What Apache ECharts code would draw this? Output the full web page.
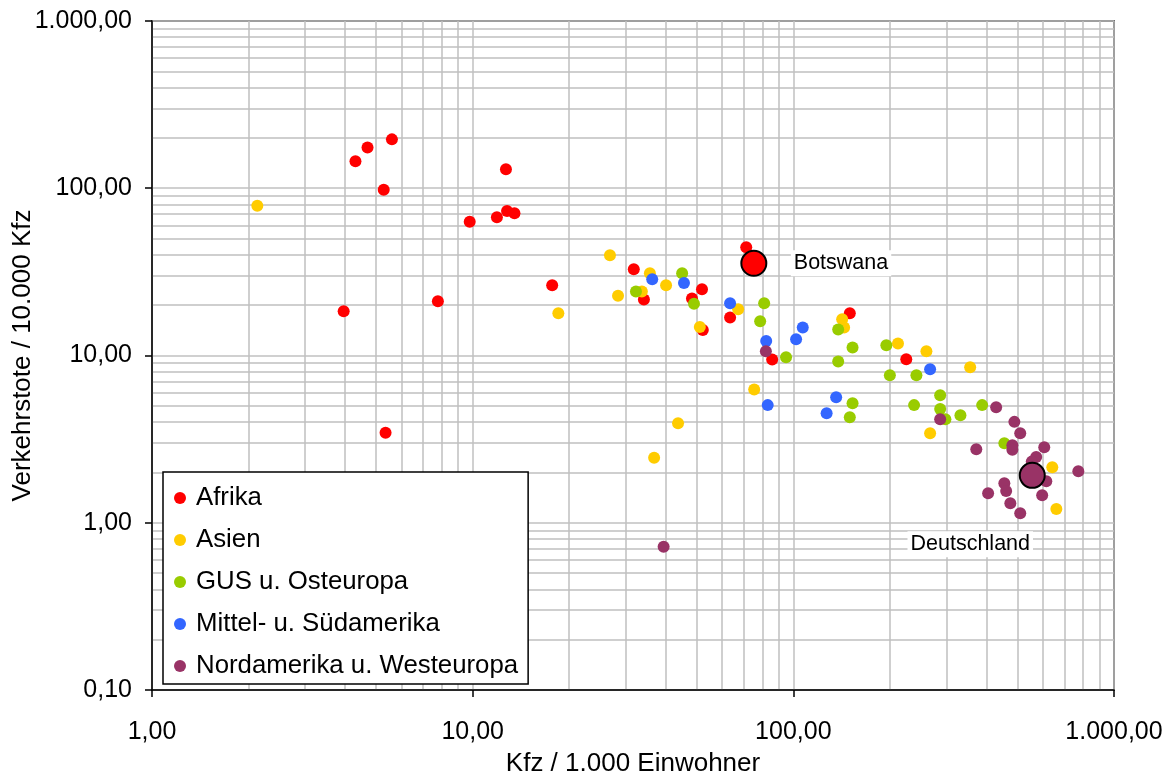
<!DOCTYPE html>
<html>
<head>
<meta charset="utf-8">
<script src="https://cdn.jsdelivr.net/npm/echarts@6/dist/echarts.min.js"></script>
<style>
html,body{margin:0;padding:0;background:#fff;}
#chart{width:1175px;height:778px;}
</style>
</head>
<body>
<div id="chart"></div>
<script>
// ---- data (x: Kfz / 1.000 Einwohner, y: Verkehrstote / 10.000 Kfz) ----
const seriesNames = ['Afrika', 'Asien', 'GUS u. Osteuropa', 'Mittel- u. Südamerika', 'Nordamerika u. Westeuropa'];

const afrika = [
  [5.60,196],[4.70,175],[4.31,145],[5.28,98.1],[12.7,130],[9.79,63.1],[11.9,67.1],
  [12.8,73.2],[13.5,70.9],[17.7,26.3],[3.96,18.4],[7.79,21.1],[5.35,3.45],[31.8,32.8],
  [34.2,21.6],[51.9,24.9],[48.3,21.9],[52.2,14.2],[63.5,16.9],[71.3,44.4],[85.9,9.45],
  [150,17.9],[225,9.50]
];
const asien = [
  [2.13,78.7],[18.5,17.9],[26.8,39.8],[35.7,31.0],[28.4,22.8],[33.7,24.1],[40.1,26.3],
  [51.1,14.8],[67.3,18.9],[75.5,6.26],[43.7,3.94],[36.8,2.45],[142,16.5],[144,14.7],
  [212,11.8],[260,10.6],[356,8.51],[267,3.43],[642,2.15],[661,1.21]
];
const gus = [
  [32.3,24.1],[45.0,31.0],[49.0,20.4],[81.1,20.5],[78.8,16.0],[94.9,9.77],[138,14.3],
  [153,11.15],[138,9.22],[153,5.19],[150,4.27],[195,11.5],[200,7.62],[242,7.62],
  [287,5.79],[238,5.05],[287,4.78],[298,4.16],[332,4.40],[388,5.05],[455,2.99]
];
const suedamerika = [
  [36.3,28.6],[45.6,27.1],[63.5,20.5],[82.3,12.2],[107,14.7],[102,12.5],[83.2,5.05],
  [136,5.63],[127,4.51],[267,8.28]
];
const westen = [
  [39.4,0.718],[82.1,10.6],[287,4.16],[429,4.91],[489,4.01],[510,3.43],[482,2.91],
  [482,2.73],[372,2.75],[606,2.83],[572,2.47],[554,2.32],[615,1.77],[774,2.03],
  [455,1.72],[461,1.55],[405,1.50],[597,1.46],[475,1.31],[510,1.14]
];
const highlightNames = ['Botswana', 'Deutschland'];
const highlightX = [75.3, 556];
const highlightY = [35.6, 1.92];

const xTickLabels = ['1,00', '10,00', '100,00', '1.000,00'];   // 10^0 .. 10^3
const yTickLabels = ['0,10', '1,00', '10,00', '100,00', '1.000,00']; // 10^-1 .. 10^3

// ---- styling ----
const colors = ['#FF0000', '#FFCC00', '#99CC00', '#3366FF', '#993366'];
const highlightColorIdx = [0, 4];
const FONT = "'Liberation Sans', Arial, sans-serif";
const gridColor = '#c0c0c0';

const chart = echarts.init(document.getElementById('chart'), null, {renderer: 'canvas'});

function axisCommon(labels, minExp) {
  return {
    type: 'log',
    logBase: 10,
    axisLine: {show: true, lineStyle: {color: '#000', width: 1.5}},
    axisTick: {show: true, inside: false, length: 7, lineStyle: {color: '#000', width: 1.5}},
    splitLine: {show: true, lineStyle: {color: gridColor, width: 1.5}},
    minorTick: {show: false, splitNumber: 9},
    minorSplitLine: {show: true, lineStyle: {color: gridColor, width: 1.5}},
    axisLabel: {
      color: '#000', fontFamily: FONT, fontSize: 25,
      formatter: function (v) {
        const e = Math.round(Math.log10(v));
        return labels[e - minExp] !== undefined ? labels[e - minExp] : '';
      }
    },
    nameLocation: 'middle',
    nameMoveOverlap: false,
    nameTextStyle: {color: '#000', fontFamily: FONT, fontSize: 26}
  };
}

const xAxis = Object.assign(axisCommon(xTickLabels, 0), {
  min: 1, max: 1000,
  name: 'Kfz / 1.000 Einwohner',
  nameGap: 61
});
xAxis.axisLabel.margin = 30;

const yAxis = Object.assign(axisCommon(yTickLabels, -1), {
  min: 0.1, max: 1000,
  name: 'Verkehrstote / 10.000 Kfz',
  nameGap: 116
});
yAxis.axisLabel.margin = 20;

const seriesData = [afrika, asien, gus, suedamerika, westen];
const series = seriesData.map(function (d, i) {
  return {
    name: seriesNames[i],
    type: 'scatter',
    symbol: 'circle',
    symbolSize: 12,
    itemStyle: {color: colors[i], opacity: 1},
    data: d,
    z: 2 + i
  };
});

const labelStyles = [
  {position: 'right', distance: 23.5},
  {position: 'inside', offset: [-62, 69]}
];
series.push({
  name: 'Markiert',
  type: 'scatter',
  symbol: 'circle',
  symbolSize: 25,
  z: 10,
  itemStyle: {opacity: 1},
  data: highlightNames.map(function (n, i) {
    return {
      name: n,
      value: [highlightX[i], highlightY[i]],
      itemStyle: {color: colors[highlightColorIdx[i]], borderColor: '#000', borderWidth: 2, opacity: 1},
      label: Object.assign({
        show: true, formatter: '{b}', color: '#000', fontFamily: FONT, fontSize: 21.5,
        backgroundColor: '#fff', padding: [2, 3], opacity: 1
      }, labelStyles[i])
    };
  })
});

chart.setOption({
  animation: false,
  backgroundColor: '#fff',
  grid: {
    left: 152, right: 61, top: 21, bottom: 88,
    outerBoundsMode: 'none',
    containLabel: false,
    show: true, borderColor: '#000', borderWidth: 1.5, backgroundColor: 'transparent'
  },
  legend: {
    data: seriesNames,
    orient: 'vertical',
    left: 163, top: 472,
    backgroundColor: '#fff',
    borderColor: '#000', borderWidth: 1.5, borderRadius: 0,
    padding: [13, 10, 5, 11],
    itemWidth: 22, itemHeight: 12,
    itemGap: 16,
    icon: 'circle',
    textStyle: {color: '#000', fontFamily: FONT, fontSize: 25.8},
    selectedMode: false
  },
  xAxis: xAxis,
  yAxis: yAxis,
  series: series
});
</script>
</body>
</html>
